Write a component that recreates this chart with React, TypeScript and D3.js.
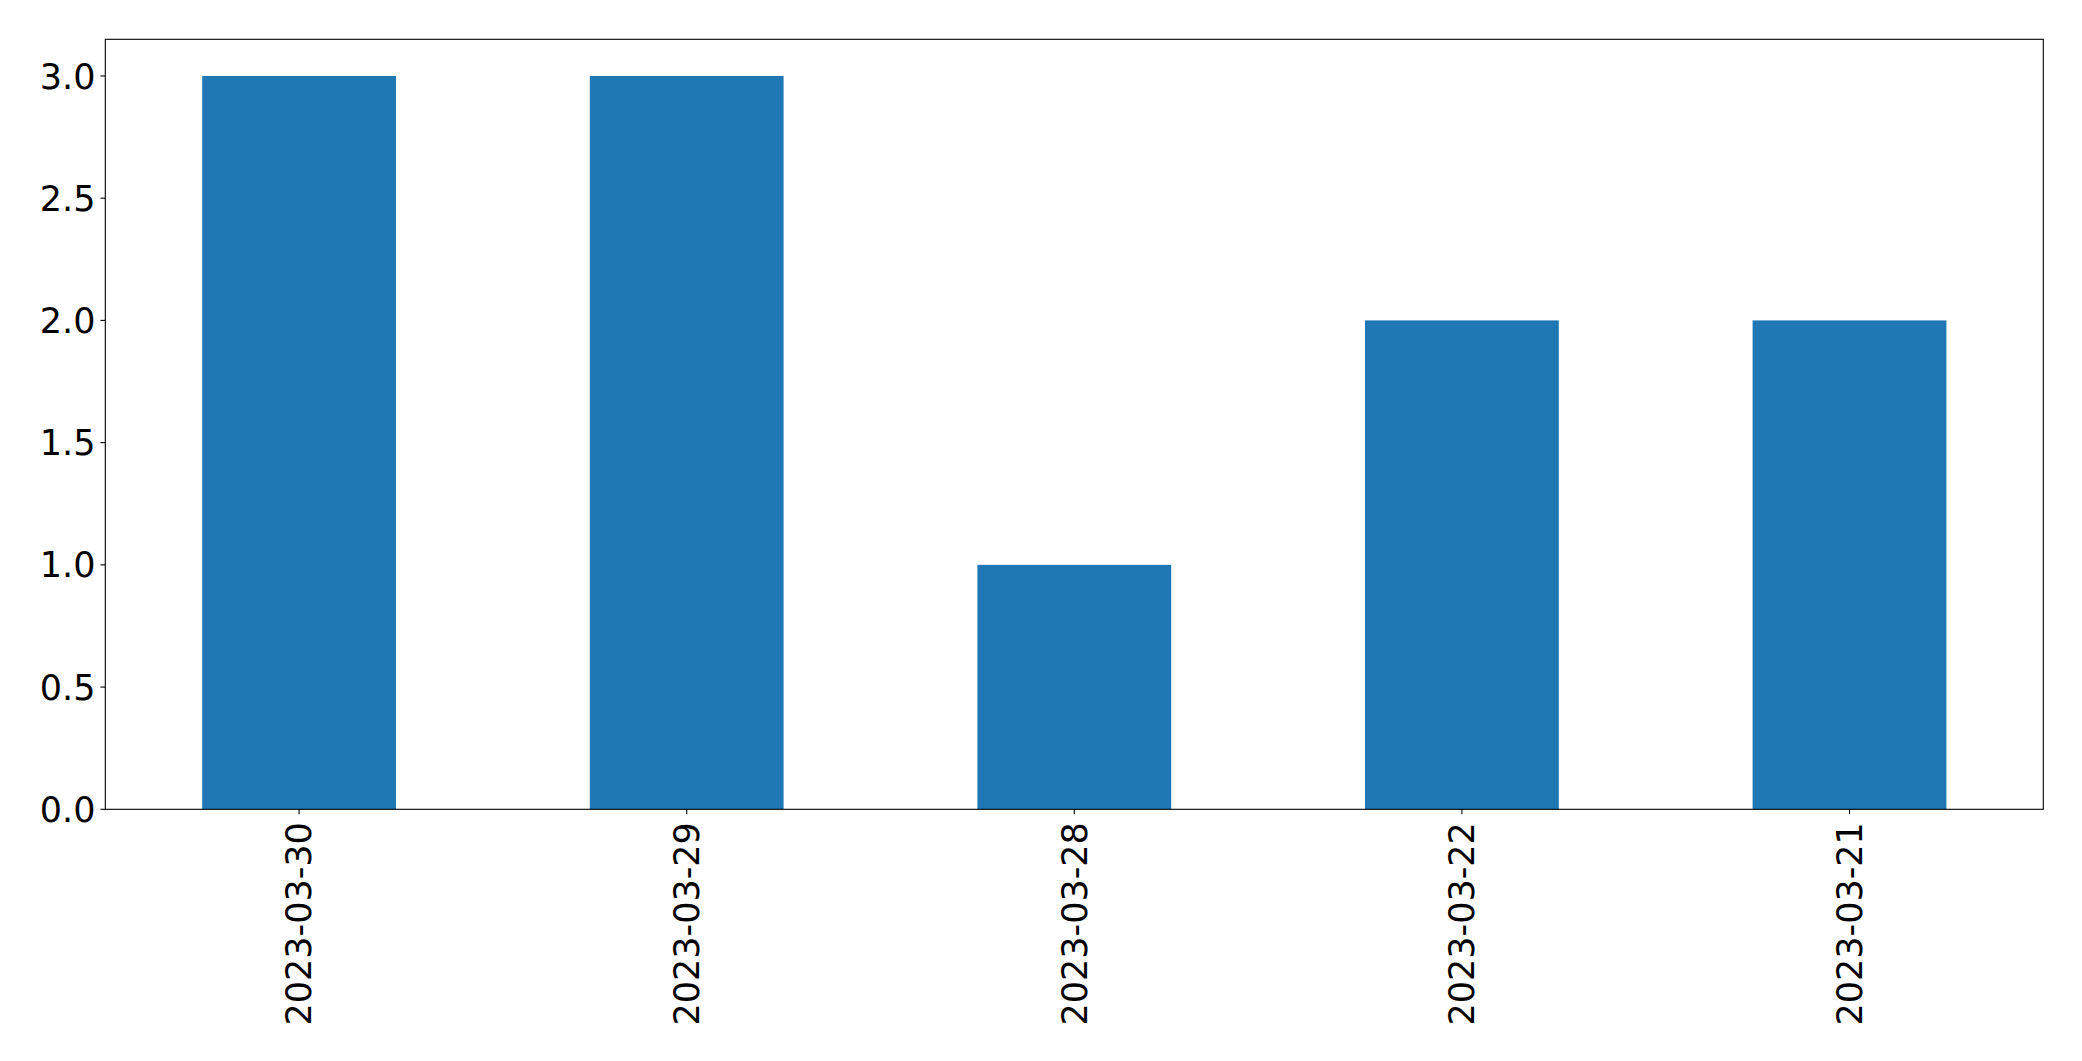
import React from "react";
import * as d3 from "d3";

const categories = ["2023-03-30", "2023-03-29", "2023-03-28", "2023-03-22", "2023-03-21"];
const values = [3, 3, 1, 2, 2];
const yTicks = [0, 0.5, 1.0, 1.5, 2.0, 2.5, 3.0];

const W = 2082;
const H = 1061;
const M = { left: 105.3, right: 2043.3, top: 39.3, bottom: 809.3 };
const FONT = "'DejaVu Sans', sans-serif";
const FS = 35;
const TICK = 4.86;

export default function App() {
  const x = d3
    .scaleBand<string>()
    .domain(categories)
    .range([M.left, M.right])
    .paddingInner(0.5)
    .paddingOuter(0.25);
  const y = d3.scaleLinear().domain([0, 3.15]).range([M.bottom, M.top]);

  return (
    <svg
      width={W}
      height={H}
      style={{ position: "absolute", left: 0, top: 0, background: "#fff" }}
      fontFamily={FONT}
    >
      <rect x={0} y={0} width={W} height={H} fill="#fff" />
      {categories.map((c, i) => (
        <rect
          key={c}
          x={x(c)}
          y={y(values[i])}
          width={x.bandwidth()}
          height={y(0) - y(values[i])}
          fill="#1f77b4"
        />
      ))}
      <rect
        x={M.left}
        y={M.top}
        width={M.right - M.left}
        height={M.bottom - M.top}
        fill="none"
        stroke="#000"
        strokeWidth={1.1}
      />
      {yTicks.map((t) => (
        <g key={t}>
          <line x1={M.left - TICK} x2={M.left} y1={y(t)} y2={y(t)} stroke="#000" strokeWidth={1.1} />
          <text
            x={M.left - TICK - 5}
            y={y(t)}
            dy="0.36em"
            textAnchor="end"
            fontSize={FS}
            fill="#000"
          >
            {t.toFixed(1)}
          </text>
        </g>
      ))}
      {categories.map((c) => {
        const cx = (x(c) as number) + x.bandwidth() / 2;
        const ty = M.bottom + TICK + 8;
        return (
          <g key={c}>
            <line x1={cx} x2={cx} y1={M.bottom} y2={M.bottom + TICK} stroke="#000" strokeWidth={1.1} />
            <text
              transform={`translate(${cx},${ty}) rotate(-90)`}
              dy="0.35em"
              textAnchor="end"
              fontSize={FS}
              fill="#000"
            >
              {c}
            </text>
          </g>
        );
      })}
    </svg>
  );
}
